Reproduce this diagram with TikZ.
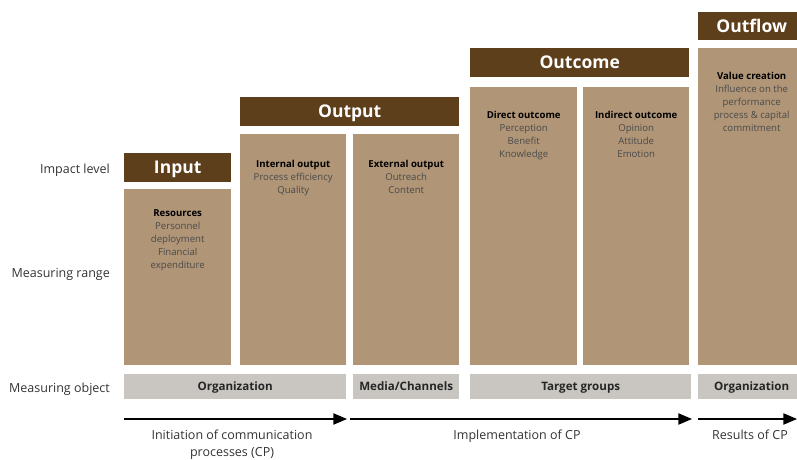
\documentclass[tikz,border=0pt]{standalone}
\usepackage{fontspec}
\setmainfont{Open Sans}
\usetikzlibrary{arrows}
\definecolor{headbrown}{HTML}{5E3F1C}
\definecolor{fieldtan}{HTML}{B09577}
\definecolor{objgrey}{HTML}{C9C6C1}
\definecolor{bodygrey}{HTML}{4A4A4A}
\definecolor{labelgrey}{HTML}{333333}
\newcommand{\fieldhead}[1]{{\color{black}\bfseries #1}}
\newcommand{\stage}[6]{\node[stagehead,minimum width=#3-#2,minimum height=#5-#4] (#1) at (#2,#4) {#6};}
\newcommand{\field}[6]{\node[fieldbox,minimum width=#3-#2,minimum height=365-#4] (#1) at (#2,#4) {};\node[fieldtext] (#1txt) at ([yshift=-#5]#1.north) {#6};}
\newcommand{\object}[4]{\node[objbox,minimum width=#3-#2] (#1) at (#2,374) {#4};}
\tikzset{
	stagehead/.style={fill=headbrown,text=white,font=\fontsize{17.5}{19}\selectfont\bfseries,text height=12.5pt,text depth=0pt,inner sep=0pt,anchor=north west},
	fieldbox/.style={fill=fieldtan,inner sep=0pt,anchor=north west},
	fieldtext/.style={anchor=north,align=center,inner sep=0pt,text=bodygrey,font=\fontsize{9.6}{13}\selectfont},
	objbox/.style={fill=objgrey,minimum height=25,inner sep=0pt,anchor=north west,text height=8.3pt,text depth=0pt,font=\fontsize{11.6}{13}\selectfont\bfseries,text=black!85},
	rowlabel/.style={anchor=base east,inner sep=0pt,text=labelgrey,font=\fontsize{12.5}{15}\selectfont},
	phase/.style={anchor=north,align=center,inner sep=0pt,text=labelgrey,font=\fontsize{12.5}{17.5}\selectfont},
	flow/.style={line width=2.2pt,arrows={-triangle 45}}
}
\begin{document}
\begin{tikzpicture}[x=1pt,y=-1pt]
	\useasboundingbox (0,0) rectangle (797,460);

	\node[rowlabel] (impact) at (110,173) {Impact level};
	\node[rowlabel] (range) at (110,277) {Measuring range};
	\node[rowlabel] (object) at (110,392) {Measuring object};

	\stage{input}{124}{231}{153}{182}{Input}
	\stage{output}{240}{459}{97}{126}{Output}
	\stage{outcome}{470}{689}{48}{77}{Outcome}
	\stage{outflow}{698}{805}{12}{40}{Outflow}

	\field{resources}{124}{231}{189}{20}{\fieldhead{Resources}\\Personnel\\deployment\\Financial\\expenditure}
	\field{internal}{240}{346}{134}{26}{\fieldhead{Internal output}\\Process efficiency\\Quality}
	\field{external}{353}{459}{134}{26}{\fieldhead{External output}\\Outreach\\Content}
	\field{direct}{470}{577}{87}{24}{\fieldhead{Direct outcome}\\Perception\\Benefit\\Knowledge}
	\field{indirect}{583}{689}{87}{24}{\fieldhead{Indirect outcome}\\Opinion\\Attitude\\Emotion}
	\field{value}{698}{805}{48}{24}{\fieldhead{Value creation}\\Influence on the\\performance\\process \& capital\\commitment}

	\object{orga}{124}{346}{Organization}
	\object{media}{353}{459}{Media/Channels}
	\object{target}{470}{691}{Target groups}
	\object{orgb}{698}{805}{Organization}

	\coordinate (p0) at (124,419);
	\coordinate (p1) at (347,419);
	\coordinate (p2) at (350,419);
	\coordinate (p3) at (692,419);
	\coordinate (p4) at (698,419);
	\coordinate (p5) at (797,419);
	\draw[flow] (p0) -- (p1);
	\draw[flow] (p2) -- (p3);
	\draw[flow] (p4) -- (p5);

	\node[phase] (init) at (232,429.5) {Initiation of communication\\processes (CP)};
	\node[phase] (impl) at (517,429.5) {Implementation of CP};
	\node[phase] (result) at (750,429.5) {Results of CP};
\end{tikzpicture}
\end{document}
